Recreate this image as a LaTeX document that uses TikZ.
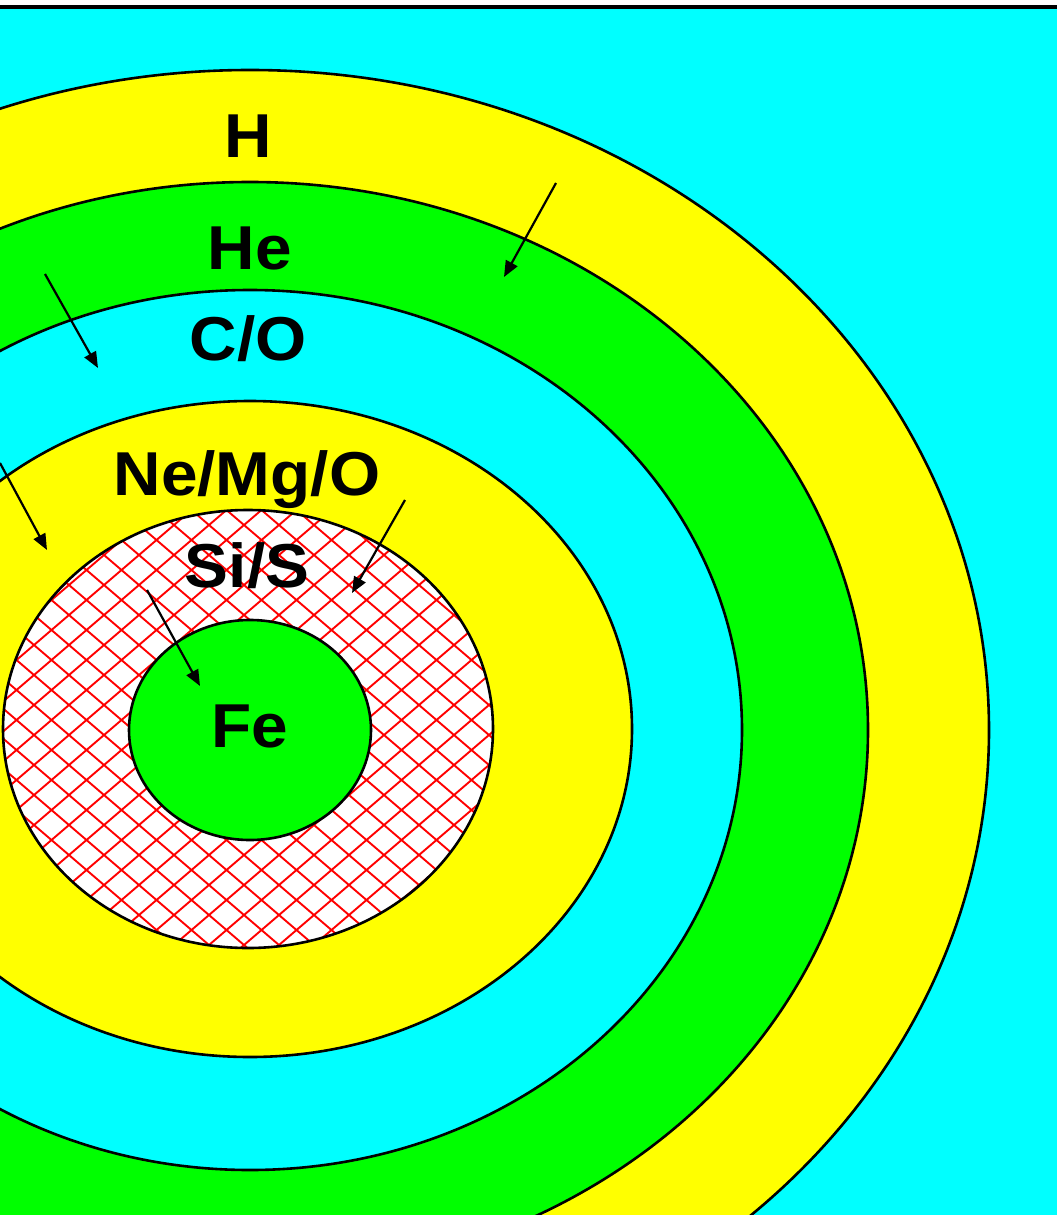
\documentclass[tikz,border=0pt]{standalone}
\usepackage{fontspec}
\setmainfont{Liberation Sans}
\newfontfamily\labfont[FakeStretch=1.06]{Liberation Sans}
\usetikzlibrary{arrows.meta}
\definecolor{cyanC}{RGB}{0,255,255}
\definecolor{yelC}{RGB}{255,255,0}
\definecolor{grnC}{RGB}{0,255,0}
\definecolor{redC}{RGB}{255,0,0}
\tikzset{
  shell/.style={draw=black, line width=2.6pt},
  lab/.style={font=\labfont\bfseries\fontsize{62}{62}\selectfont, text=black, inner sep=0pt, anchor=base},
  arr/.style={draw=black, line width=2.2pt, -{Triangle[length=16pt,width=13pt]}},
  hatchline/.style={draw=redC, line width=1.9pt}
}
\begin{document}
\begin{tikzpicture}[x=1pt,y=-1pt]
\useasboundingbox (0,0) rectangle (1057,1215);
\begin{scope}
\clip (0,0) rectangle (1057,1215);
\fill[cyanC] (0,0) rectangle (1057,1215);
% shells
\path[shell, fill=yelC] (250,730) ellipse [x radius=739pt, y radius=660pt];
\path[shell, fill=grnC] (250,730) ellipse [x radius=618pt, y radius=548pt];
\path[shell, fill=cyanC] (250,730) ellipse [x radius=492pt, y radius=440pt];
\path[shell, fill=yelC] (250,729) ellipse [x radius=382pt, y radius=328pt];
% Si/S hatched shell
\fill[white] (248,729) ellipse [x radius=245pt, y radius=219pt];
\begin{scope}
\clip (248,729) ellipse [x radius=245pt, y radius=219pt];
\foreach \k in {-12,...,22} {
  \draw[hatchline] (34+35*\k-204.17,500) -- (34+35*\k+332.5,960);
  \draw[hatchline] (34+35*\k+204.17,500) -- (34+35*\k-332.5,960);
}
\end{scope}
\draw[shell] (248,729) ellipse [x radius=245pt, y radius=219pt];
% Fe core
\path[shell, fill=grnC] (250,730) ellipse [x radius=121pt, y radius=110pt];
\end{scope}
% top border
\fill[white] (0,0) rectangle (1057,5);
\fill[black] (0,5) rectangle (1057,9);
% labels
\node[lab] (tH) at (248,157) {H};
\node[lab] (tHe) at (250,269) {He};
\node[lab] (tCO) at (248,360) {C/O};
\node[lab] (tNe) at (247,495) {Ne/Mg/O};
\node[lab] (tSi) at (247,587) {Si/S};
\node[lab] (tFe) at (250,747) {Fe};
% arrows
\coordinate (a1s) at (556,183); \coordinate (a1e) at (504,277);
\coordinate (a2s) at (45,274);  \coordinate (a2e) at (98,368);
\coordinate (a3s) at (0,463);   \coordinate (a3e) at (47,550);
\coordinate (a4s) at (405,500); \coordinate (a4e) at (352,593);
\coordinate (a5s) at (147,590); \coordinate (a5e) at (200,686);
\draw[arr] (a1s) -- (a1e);
\draw[arr] (a2s) -- (a2e);
\draw[arr] (a3s) -- (a3e);
\draw[arr] (a4s) -- (a4e);
\draw[arr] (a5s) -- (a5e);
\end{tikzpicture}
\end{document}
